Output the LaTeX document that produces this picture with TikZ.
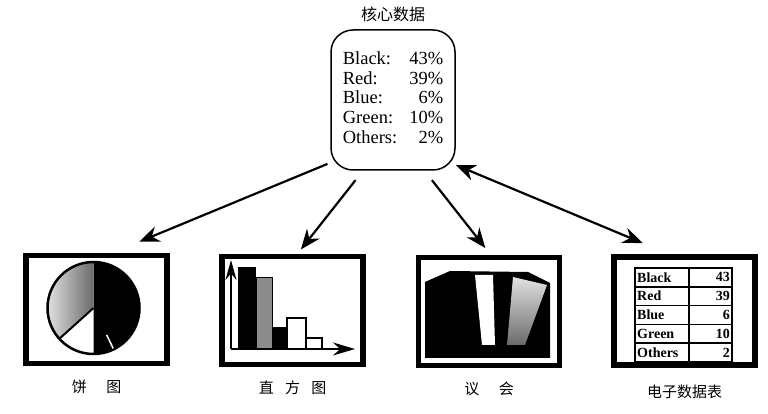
\documentclass[tikz,border=0pt]{standalone}
\usepackage{fontspec}
\setmainfont{Liberation Serif}
\newfontfamily\cjk{Noto Sans CJK SC}
\usetikzlibrary{arrows.meta,positioning}
\definecolor{pielight}{gray}{0.88}
\definecolor{piedark}{gray}{0.42}
\definecolor{bargray}{gray}{0.55}
\tikzstyle{arrow} = [line width=2.2pt,-{Stealth[length=20pt,width=16pt]}]
\tikzstyle{twoway} = [line width=2.2pt,{Stealth[length=20pt,width=16pt]}-{Stealth[length=20pt,width=16pt]}]
\tikzstyle{frame} = [draw, line width=5.5pt, minimum width=141pt, minimum height=108pt, inner sep=0pt, outer sep=0pt]
\tikzstyle{caption} = [font=\cjk\fontsize{15}{15}\selectfont, inner sep=0pt]
\tikzstyle{cell} = [font=\bfseries\fontsize{14}{14}\selectfont, inner sep=1pt]

\begin{document}
\begin{tikzpicture}[x=1pt,y=1pt]
    \useasboundingbox (0,0) rectangle (768,414);

    % Core data
    \node[draw, line width=1.5pt, rounded corners=22pt, minimum width=124pt, minimum height=140pt, inner sep=0pt] (core) at (393,314) {\fontsize{18.5}{19.6}\selectfont
        \begin{tabular}{@{}l@{\hspace{12pt}}r@{}}
        Black: & 43\% \\
        Red: & 39\% \\
        Blue: & 6\% \\
        Green: & 10\% \\
        Others: & 2\%
        \end{tabular}};
    \node[font=\cjk\fontsize{16}{16}\selectfont, inner sep=0pt, above=7pt of core] (title) {核心数据};

    % Frames
    \node[frame] (pie) at (96.5,104.5) {};
    \node[frame] (hist) at (292.5,103.5) {};
    \node[frame] (council) at (489,102.5) {};
    \node[frame] (sheet) at (684.5,103) {};

    % Pie chart
    \fill[black] (93.5,106) -- ++(90:46) arc (90:-90:46) -- cycle;
    \shade[left color=pielight, right color=piedark] (93.5,106) -- ++(90:46) arc (90:222:46) -- cycle;
    \draw[line width=2.5pt] (93.5,106) circle (46);
    \draw[line width=2pt] (93.5,106) -- ++(222:46);
    \draw[white, line width=1.5pt] (93.5,106) ++(-64:30) -- ++(-64:15);

    % Histogram
    \fill (238,65) rectangle (256,147);
    \filldraw[fill=bargray, line width=1pt] (256,65) rectangle (272,136);
    \fill (272,65) rectangle (287,87);
    \draw[line width=1.5pt] (287,65) rectangle (306,96);
    \draw[line width=1.5pt] (306,65) rectangle (322,76);
    \draw[line width=1.8pt, -{Stealth[length=20pt,width=11pt]}] (231,65) -- (231,154);
    \draw[line width=1.8pt, -{Stealth[length=22pt,width=13pt]}] (231,65) -- (355,65);

    % Council
    \fill (425,132) -- (450,143) -- (528,142) -- (550,131) -- (550,56) -- (425,56) -- cycle;
    \fill[white] (475,139) -- (493,139) -- (495,69) -- (482,69) -- cycle;
    \shade[top color=pielight, bottom color=piedark] (513,137) -- (547,129) -- (525,69) -- (507,69) -- cycle;

    % Spreadsheet
    \draw[line width=1.8pt] (635,52) rectangle (732,146);
    \draw[line width=1.5pt] (689,52) -- (689,146);
    \foreach \k in {1,...,4}
        \draw[line width=1.5pt] (635,146-18.8*\k) -- (732,146-18.8*\k);
    \foreach \lab/\val [count=\i] in {Black/43,Red/39,Blue/6,Green/10,Others/2} {
        \node[cell, anchor=west] (lab\i) at (636,155.4-18.8*\i) {\lab};
        \node[cell, anchor=east] (val\i) at (731,155.4-18.8*\i) {\val};
    }

    % Captions
    \node[caption, below=16pt of pie] (pietext) {饼\hspace{1.3em}图};
    \node[caption, below=16pt of hist] (histtext) {直\hspace{0.75em}方\hspace{0.75em}图};
    \node[caption, below=16pt of council] (counciltext) {议\hspace{1.3em}会};
    \node[caption, below=20pt of sheet] (sheettext) {电子数据表};

    % Arrows
    \draw[arrow, shorten <=3pt, shorten >=36pt] (core.225) -- (pie.80);
    \draw[arrow, shorten <=12pt, shorten >=9pt] (core.247) -- (hist.87);
    \draw[arrow, shorten <=12pt, shorten >=12pt] (core.294) -- (council.86);
    \draw[twoway, shorten >=36pt] (core.314) -- (sheet.99);
\end{tikzpicture}
\end{document}
